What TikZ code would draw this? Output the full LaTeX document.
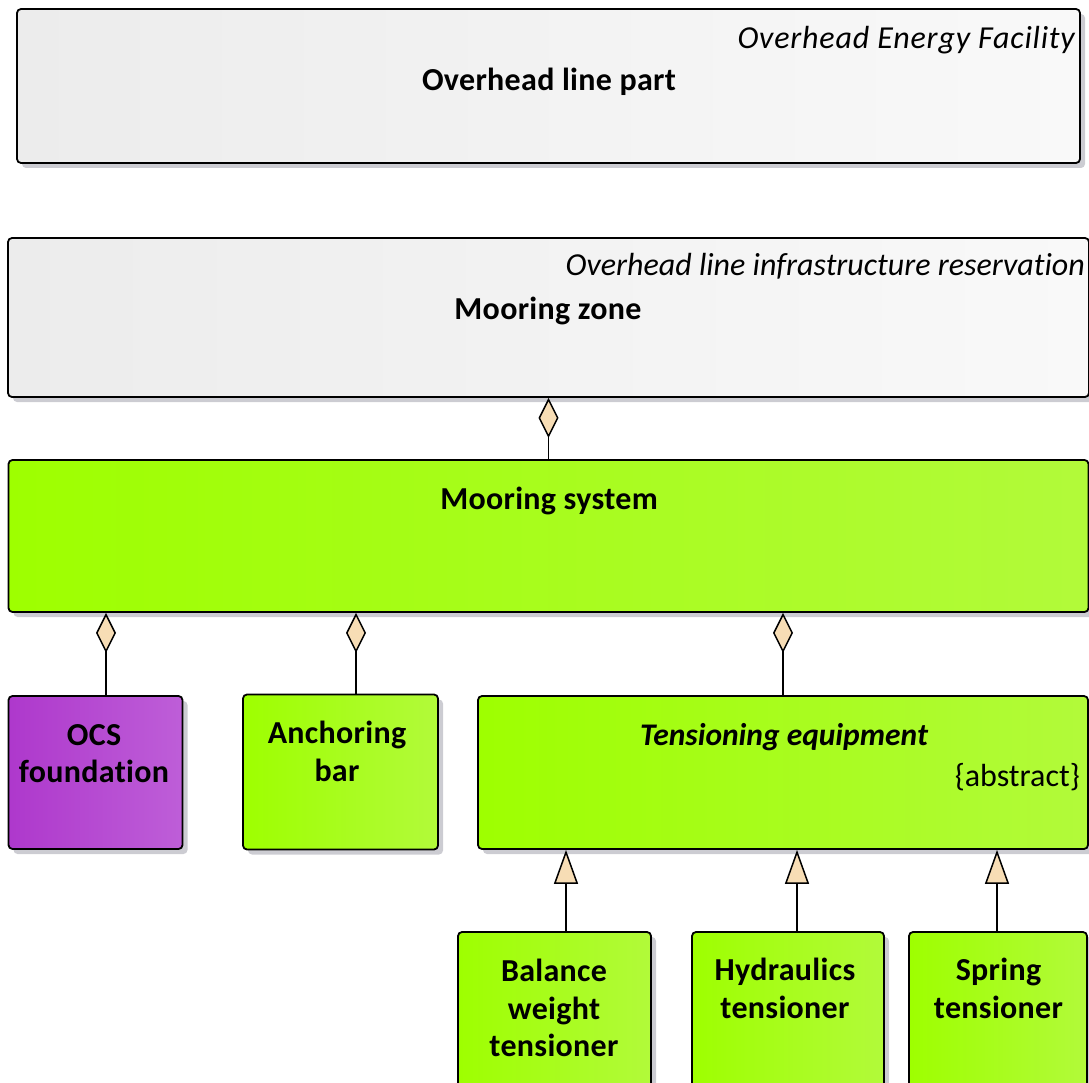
\documentclass[tikz,border=0pt]{standalone}
\usepackage{fontspec}
\setmainfont{Carlito}[Ligatures=CommonOff,
    BoldFeatures={LetterSpace=1}]
\usetikzlibrary{arrows.meta,shadows}
\definecolor{umlTan}{RGB}{247,221,181}
\definecolor{umlShadow}{RGB}{204,204,210}
\definecolor{umlGrayL}{RGB}{236,236,236}
\definecolor{umlGrayR}{RGB}{249,249,249}
\definecolor{umlGreenL}{RGB}{158,255,0}
\definecolor{umlGreenR}{RGB}{178,250,58}
\definecolor{umlPurpleL}{RGB}{174,56,204}
\definecolor{umlPurpleR}{RGB}{190,94,216}
\begin{document}
\begin{tikzpicture}[x=1pt,y=1pt]
\tikzset{
    umlBox/.style={rectangle,draw=black,line width=1.8pt,rounded corners=4pt,inner sep=0pt,
        drop shadow={shadow xshift=5pt,shadow yshift=-5pt,fill=umlShadow,opacity=1}},
    umlGray/.style={umlBox,left color=umlGrayL,right color=umlGrayR},
    umlGreen/.style={umlBox,left color=umlGreenL,right color=umlGreenR},
    umlPurple/.style={umlBox,left color=umlPurpleL,right color=umlPurpleR},
    umlName/.style={anchor=north,inner sep=0pt,align=center,font=\fontsize{32}{37.5}\selectfont\bfseries},
    umlType/.style={anchor=north east,inner sep=0pt,font=\fontsize{32}{37.5}\selectfont\itshape},
    umlComp/.style={line width=1.5pt,-{Diamond[length=40pt,width=20pt,fill=umlTan]}},
    umlGen/.style={line width=1.5pt,-{Triangle[length=34pt,width=24pt,fill=umlTan]}},
}
\useasboundingbox (0,0) rectangle (1089,-1083);

\node[umlGray,minimum width=1063pt,minimum height=154pt] (ohl) at (548.5,-86) {};
\node[umlType,font=\fontsize{32}{37.5}\selectfont\itshape\addfontfeature{LetterSpace=2.5}] (ohlType) at (1075,-26) {Overhead Energy Facility};
\node[umlName] (ohlName) at (549,-68) {Overhead line part};

\node[umlGray,minimum width=1081pt,minimum height=159pt] (mzone) at (548.5,-317.5) {};
\node[umlType] (mzoneType) at (1085,-253) {Overhead line infrastructure reservation};
\node[umlName] (mzoneName) at (548,-297) {Mooring zone};

\node[umlGreen,minimum width=1080pt,minimum height=152pt] (msys) at (548.5,-536) {};
\node[umlName] (msysName) at (549,-487) {Mooring system};

\node[umlPurple,minimum width=174pt,minimum height=153pt] (ocs) at (95.5,-772.5) {};
\node[umlName] (ocsName) at (94,-724) {OCS\\foundation};

\node[umlGreen,minimum width=195pt,minimum height=155pt] (abar) at (340.5,-772) {};
\node[umlName] (abarName) at (337,-721) {Anchoring\\bar};

\node[umlGreen,minimum width=610pt,minimum height=153pt] (teq) at (783,-772.5) {};
\node[umlName,font=\fontsize{31.5}{37.5}\selectfont\bfseries\itshape] (teqName) at (784,-723) {Tensioning equipment};
\node[umlType,font=\fontsize{32}{37.5}\selectfont] (teqAbstract) at (1080,-763) {\{abstract\}};

\node[umlGreen,minimum width=193pt,minimum height=170pt] (bwt) at (554.5,-1017) {};
\node[umlName] (bwtName) at (554,-959) {Balance\\weight\\tensioner};

\node[umlGreen,minimum width=192pt,minimum height=170pt] (hyd) at (788,-1017) {};
\node[umlName] (hydName) at (785,-958) {Hydraulics\\tensioner};

\node[umlGreen,minimum width=178pt,minimum height=170pt] (spr) at (998,-1017) {};
\node[umlName] (sprName) at (998.5,-958) {Spring\\tensioner};

\draw[umlComp] (msys.north) -- (mzone.south);

\coordinate (ocsTop) at ([xshift=10.5pt]ocs.north);
\coordinate (abarTop) at ([xshift=15.5pt]abar.north);
\draw[umlComp] (ocsTop) -- (ocsTop |- msys.south);
\draw[umlComp] (abarTop) -- (abarTop |- msys.south);
\draw[umlComp] (teq.north) -- (msys.south -| teq.north);

\coordinate (bwtTop) at ([xshift=11.5pt]bwt.north);
\coordinate (hydTop) at ([xshift=9pt]hyd.north);
\coordinate (sprTop) at ([xshift=-1pt]spr.north);
\draw[umlGen] (bwtTop) -- (bwtTop |- teq.south);
\draw[umlGen] (hydTop) -- (hydTop |- teq.south);
\draw[umlGen] (sprTop) -- (sprTop |- teq.south);
\end{tikzpicture}
\end{document}
